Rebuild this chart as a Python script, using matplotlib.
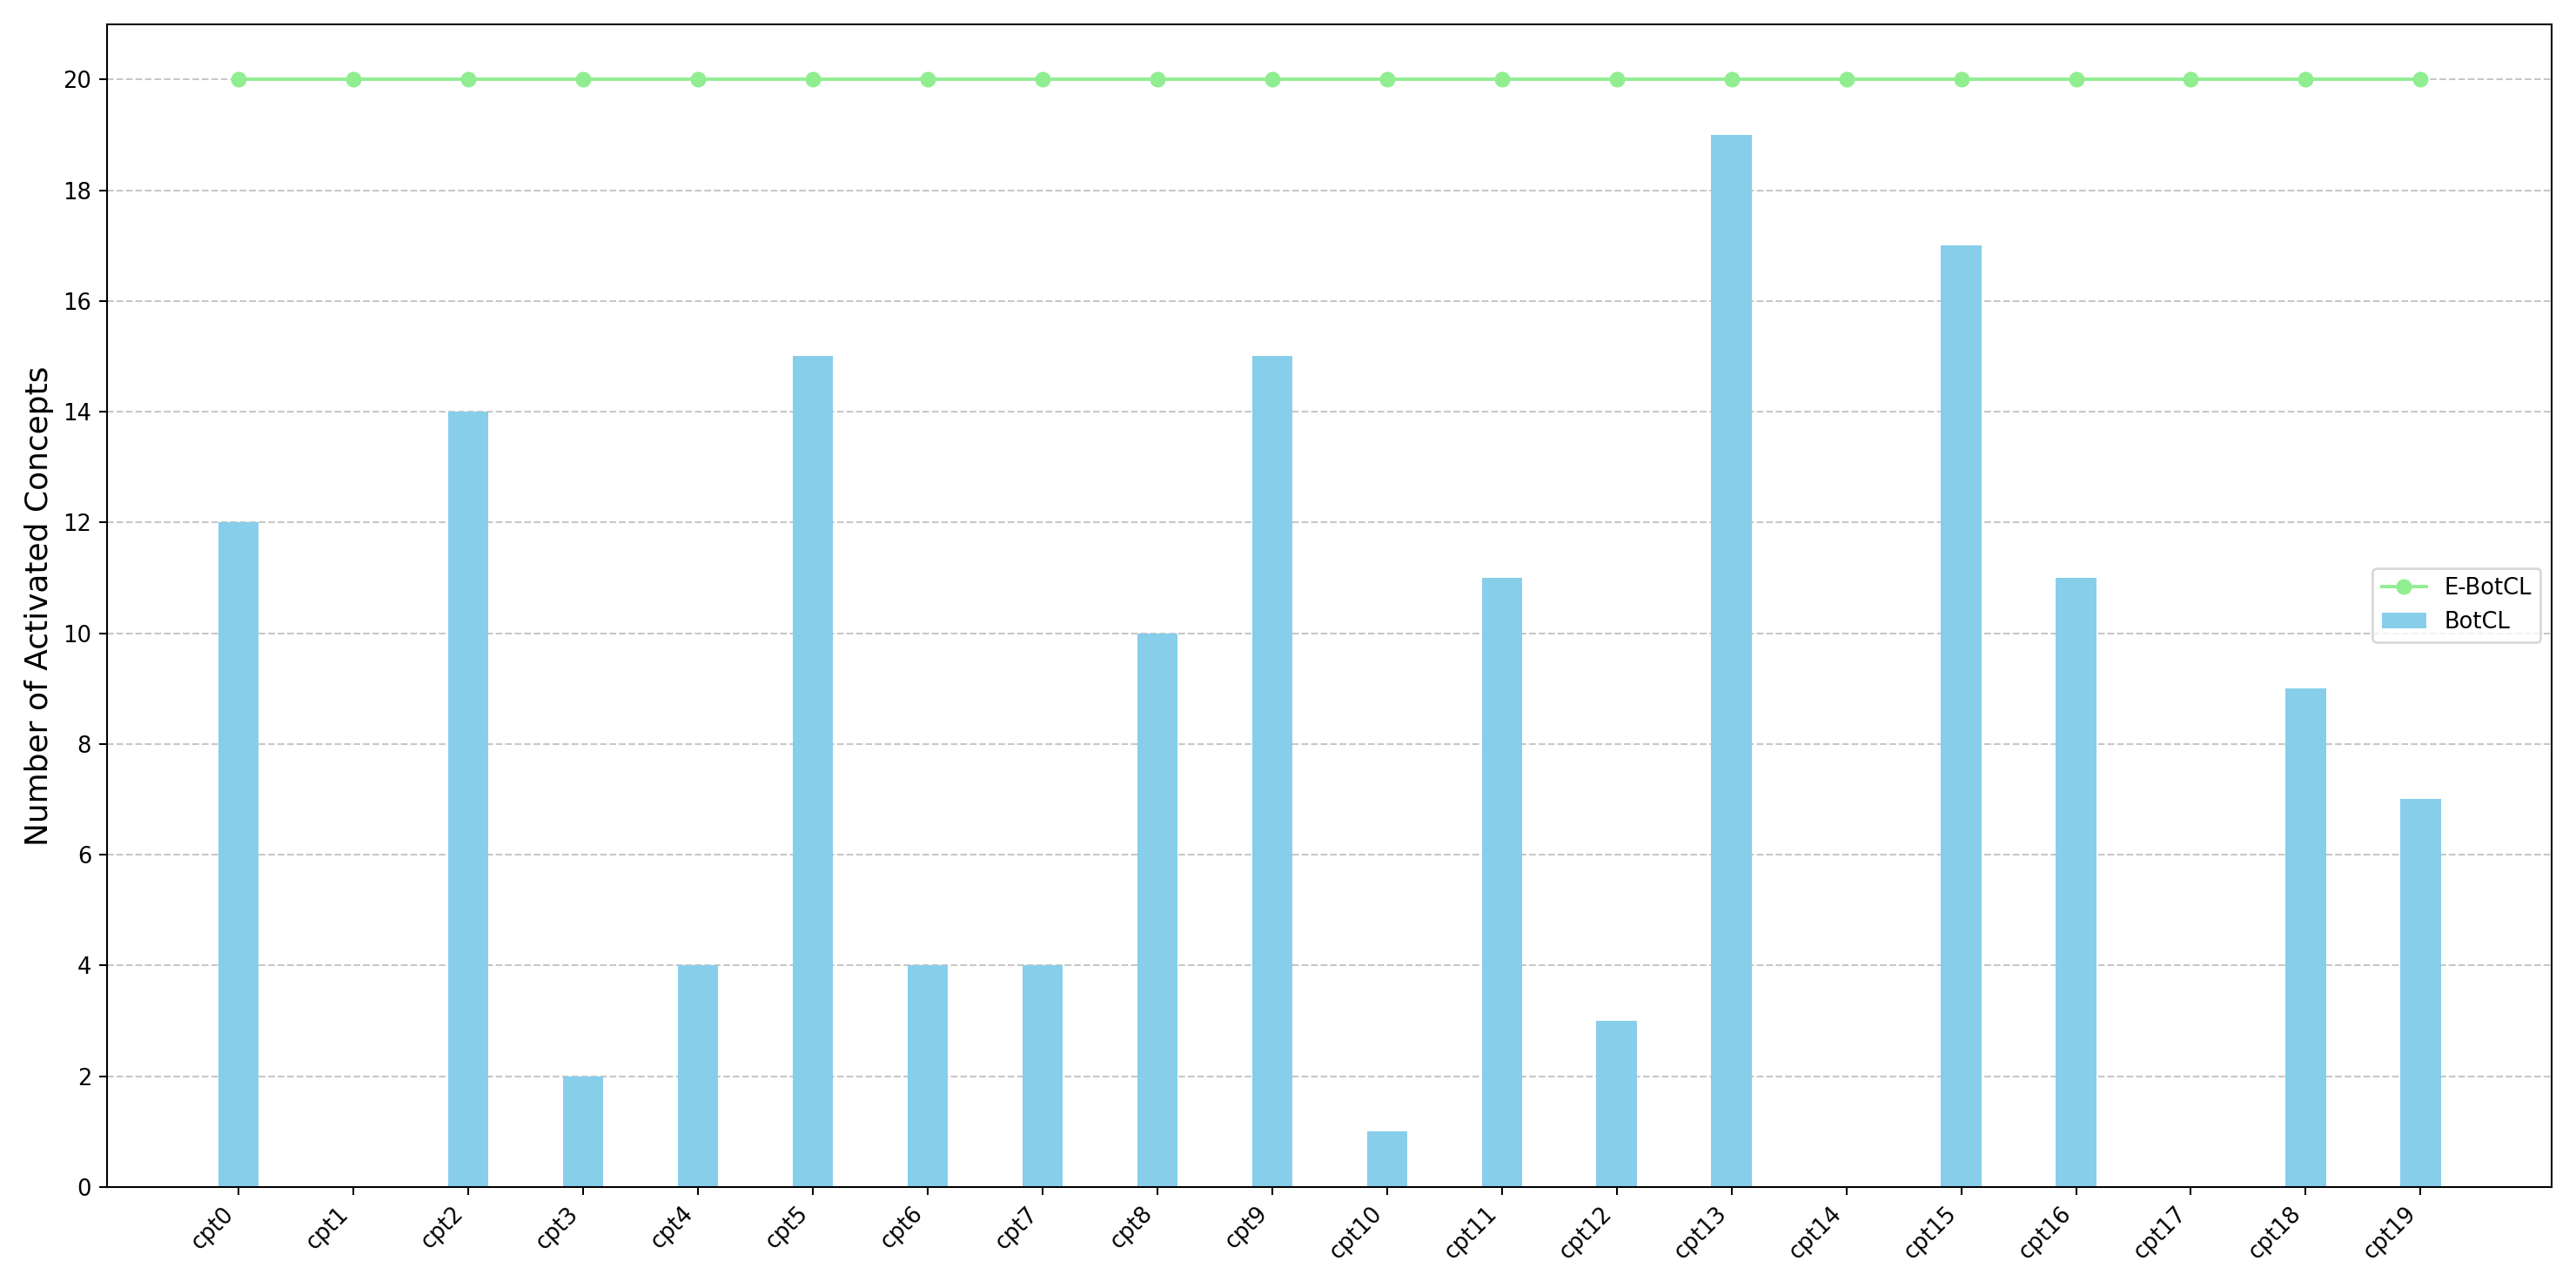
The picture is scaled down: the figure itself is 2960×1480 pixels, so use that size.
import matplotlib
matplotlib.use("Agg")
import matplotlib.pyplot as plt
import numpy as np

concepts = ["cpt%d" % i for i in range(20)]
botcl = [12, 0, 14, 2, 4, 15, 4, 4, 10, 15, 1, 11, 3, 19, 0, 17, 11, 0, 9, 7]
ebotcl = [20] * 20

x = np.arange(len(concepts))
fig, ax = plt.subplots(figsize=(16, 8), dpi=185)
ax.bar(x, botcl, width=0.35, color="skyblue", label="BotCL", zorder=2)
ax.plot(x, ebotcl, marker="o", color="lightgreen", label="E-BotCL", zorder=3)
ax.set_xticks(x)
ax.set_xticklabels(concepts, rotation=45, ha="right")
ax.set_yticks(range(0, 21, 2))
ax.set_ylim(0, 21)
ax.set_ylabel("Number of Activated Concepts", fontsize=14)
ax.yaxis.grid(True, linestyle="--", alpha=0.7, zorder=0)
ax.legend(loc="center right")
plt.tight_layout()
plt.savefig("out.png")
